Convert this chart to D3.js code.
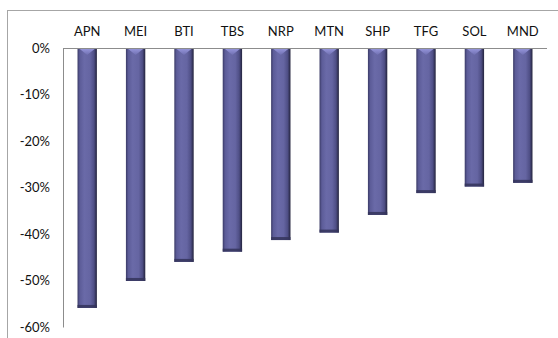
<!DOCTYPE html>
<html>
<head>
<meta charset="utf-8">
<script src="https://cdn.jsdelivr.net/npm/d3@7"></script>
<style>
  html, body { margin: 0; padding: 0; background: #fff; }
  svg { display: block; }
  text { font-family: Lato, "Open Sans", "Liberation Sans", sans-serif; fill: #111; }
</style>
</head>
<body>
<svg id="chart" width="558" height="338"></svg>
<script>
// Share price change by company
const categories = ["APN", "MEI", "BTI", "TBS", "NRP", "MTN", "SHP", "TFG", "SOL", "MND"];
const values = [-0.559, -0.501, -0.460, -0.438, -0.413, -0.397, -0.359, -0.312, -0.298, -0.290];
const yTicks = [0, -0.1, -0.2, -0.3, -0.4, -0.5, -0.6];

const svg = d3.select("#chart");
const W = 558, H = 338;
const plot = { left: 63, right: 547, top: 48, bottom: 327 };

// outer frame of the chart area
svg.append("rect")
  .attr("x", 7.5).attr("y", 10.5)
  .attr("width", W).attr("height", H)
  .attr("fill", "none").attr("stroke", "#a6a6a6").attr("stroke-width", 1);

const x = d3.scaleBand()
  .domain(categories)
  .range([plot.left, plot.right])
  .paddingInner(0.6)
  .paddingOuter(0.3);

const y = d3.scaleLinear()
  .domain([-0.6, 0])
  .range([plot.bottom, plot.top]);

// percent labels with a plain hyphen for negatives
const pct = d => `${Math.round(d * 100)}%`;

// cylinder-style shading for the bars
const defs = svg.append("defs");
const grad = defs.append("linearGradient").attr("id", "barGrad")
  .attr("x1", "0%").attr("x2", "100%").attr("y1", "0%").attr("y2", "0%");
[[0, "#3a3a66"], [0.12, "#5c5c98"], [0.35, "#6a6aa8"], [0.65, "#6565a2"], [0.85, "#4f4f86"], [1, "#23233c"]]
  .forEach(([o, c]) => grad.append("stop").attr("offset", o).attr("stop-color", c));

const capGrad = defs.append("linearGradient").attr("id", "capGrad")
  .attr("x1", "0%").attr("x2", "0%").attr("y1", "0%").attr("y2", "100%");
[[0, "#9a9ae0"], [1, "#6f6fb0"]]
  .forEach(([o, c]) => capGrad.append("stop").attr("offset", o).attr("stop-color", c));

const bars = svg.append("g").selectAll("g.bar")
  .data(categories.map((c, i) => ({ c, v: values[i] })))
  .join("g").attr("class", "bar");

bars.append("rect")
  .attr("x", d => x(d.c))
  .attr("y", y(0))
  .attr("width", x.bandwidth())
  .attr("height", d => y(d.v) - y(0))
  .attr("fill", "url(#barGrad)");

// darker bottom edge
bars.append("rect")
  .attr("x", d => x(d.c))
  .attr("y", d => y(d.v) - 3)
  .attr("width", x.bandwidth())
  .attr("height", 3)
  .attr("fill", "#34345a")
  .attr("opacity", 0.85);

// light bevel at the top of each bar
bars.append("path")
  .attr("d", d => {
    const x0 = x(d.c), w = x.bandwidth(), t = y(0);
    return `M${x0 + 1},${t} L${x0 + w - 1},${t} Q${x0 + w * 0.75},${t + 3} ${x0 + w / 2},${t + 7} Q${x0 + w * 0.25},${t + 3} ${x0 + 1},${t} Z`;
  })
  .attr("fill", "url(#capGrad)");

// value axis
const yAxis = svg.append("g")
  .attr("transform", `translate(${plot.left},0)`)
  .call(d3.axisLeft(y).tickValues(yTicks).tickFormat(pct).tickSize(0).tickPadding(13));
yAxis.select(".domain").attr("stroke", "#8c8c8c");
yAxis.selectAll("text").attr("font-size", 13).style("fill", "#111");

// category axis along the zero line, labels above
const xAxis = svg.append("g")
  .attr("transform", `translate(0,${y(0)})`)
  .call(d3.axisTop(x).tickSize(0).tickPadding(12));
xAxis.select(".domain").attr("stroke", "#8c8c8c").attr("d", `M${plot.left},0.5H${plot.right}`);
xAxis.selectAll("text").attr("font-size", 13).style("fill", "#111");
</script>
</body>
</html>
